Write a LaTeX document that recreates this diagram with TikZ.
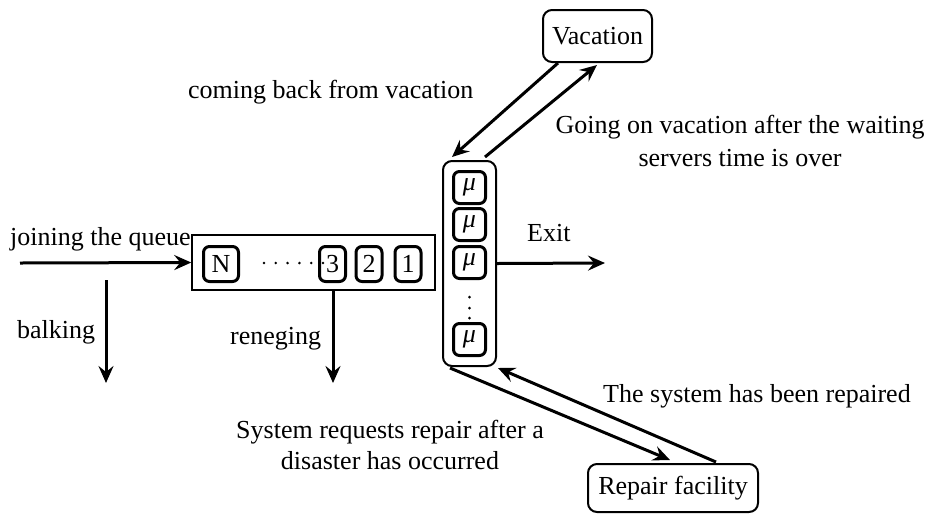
\documentclass[tikz,border=0pt]{standalone}
\usepackage{fontspec}
\setmainfont{Liberation Serif}
\usetikzlibrary{arrows.meta}
\newcommand{\mumark}{{\itshape μ}}
\begin{document}
\begin{tikzpicture}[x=1pt,y=-1pt,font=\fontsize{26}{30}\selectfont,
  arr/.style={line width=3pt,-{Stealth[length=17pt,width=15pt,inset=6pt]}},
  qbox/.style={draw,line width=3pt,rounded corners=6pt,minimum height=35pt,inner sep=0pt},
  obox/.style={draw,line width=2pt,rounded corners=9pt,inner sep=0pt},
  lbl/.style={inner sep=0pt,anchor=base west},
  clbl/.style={inner sep=0pt,anchor=base},
  dot/.style={circle,fill,inner sep=0pt,minimum size=3pt}]
\useasboundingbox (0,0) rectangle (933,515);
% queue
\node[draw,line width=1.5pt,minimum width=243pt,minimum height=55pt,inner sep=0pt] (queue) at (313.5,262.5) {};
\node[qbox,minimum width=35pt] (qN) at (221,264) {N};
\node[qbox,minimum width=26pt] (q3) at (332.5,264) {3};
\node[qbox,minimum width=26pt] (q2) at (369,264) {2};
\node[qbox,minimum width=26pt] (q1) at (408,264) {1};
\foreach \i in {0,...,5} {\node[dot,minimum size=2.8pt] (qd\i) at (264+11.8*\i,263) {};}
% servers
\node[obox,minimum width=53pt,minimum height=205pt] (srv) at (469.5,263.5) {};
\node[qbox,minimum width=32pt,minimum height=32pt] (m1) at (469.5,187.5) {\mumark};
\node[qbox,minimum width=32pt,minimum height=32pt] (m2) at (469.5,224.5) {\mumark};
\node[qbox,minimum width=32pt,minimum height=32pt] (m3) at (469.5,262.5) {\mumark};
\node[qbox,minimum width=32pt,minimum height=32pt] (m4) at (469.5,339.5) {\mumark};
\node[dot] (sd1) at (469.5,297) {};
\node[dot] (sd2) at (469.5,308) {};
\node[dot] (sd3) at (469.5,318) {};
% vacation and repair
\node[obox,minimum width=109pt,minimum height=52pt] (vac) at (597.5,36) {Vacation};
\node[obox,minimum width=170pt,minimum height=48pt] (rep) at (673,488) {Repair facility};
% coordinates
\coordinate (jin) at (20,263);
\coordinate (bs) at (106,280);
\coordinate (be) at (106,383);
\coordinate (re) at (333,383);
\coordinate (rs) at (333,290);
\coordinate (ex) at (605,263);
\coordinate (v1) at (558,63);
\coordinate (v2) at (452,157);
\coordinate (v3) at (485,157);
\coordinate (v4) at (597,65);
\coordinate (r1) at (450,368);
\coordinate (r2) at (670,460);
\coordinate (r3) at (716,462);
\coordinate (r4) at (498,368);
% arrows
\draw[arr] (jin) -- (queue.west);
\draw[arr] (bs) -- (be);
\draw[arr] (rs) -- (re);
\draw[arr] (srv.east) -- (ex);
\draw[arr] (v1) -- (v2);
\draw[arr] (v3) -- (v4);
\draw[arr] (r1) -- (r2);
\draw[arr] (r3) -- (r4);
% labels
\node[lbl] (tjoin) at (10,245) {joining the queue};
\node[lbl] (tbalk) at (17,338) {balking};
\node[lbl] (treneg) at (230,344) {reneging};
\node[lbl] (texit) at (527,241) {Exit};
\node[lbl] (tcome) at (188,98) {coming back from vacation};
\node[clbl] (tgo1) at (740,133) {Going on vacation after the waiting};
\node[clbl] (tgo2) at (740,166) {servers time is over};
\node[lbl] (trep) at (603,402) {The system has been repaired};
\node[clbl] (treq1) at (390,438) {System requests repair after a};
\node[clbl] (treq2) at (390,469) {disaster has occurred};
\end{tikzpicture}
\end{document}
